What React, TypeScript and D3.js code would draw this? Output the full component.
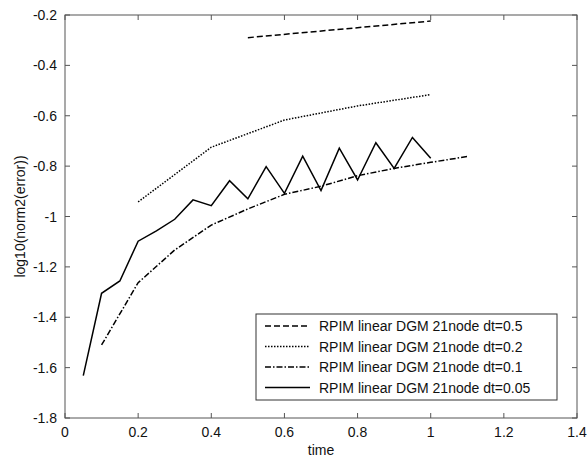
import * as d3 from "d3";
import {useEffect, useRef} from "react";

// time points and log10 error per series
const t05 = [0.5, 1.0];
const v05 = [-0.29, -0.224];

const t02 = [0.2, 0.4, 0.6, 0.8, 1.0];
const v02 = [-0.942, -0.725, -0.617, -0.561, -0.516];

const t01 = [0.1, 0.2, 0.3, 0.4, 0.5, 0.6, 0.7, 0.8, 0.9, 1.0, 1.1];
const v01 = [-1.51, -1.263, -1.133, -1.034, -0.97, -0.912, -0.88, -0.838, -0.809, -0.785, -0.762];

const t005 = [0.05, 0.1, 0.15, 0.2, 0.25, 0.3, 0.35, 0.4, 0.45, 0.5, 0.55, 0.6, 0.65, 0.7, 0.75, 0.8, 0.85, 0.9, 0.95, 1.0];
const v005 = [-1.632, -1.305, -1.256, -1.098, -1.057, -1.011, -0.934, -0.957, -0.858, -0.93, -0.802, -0.908, -0.76, -0.897, -0.729, -0.855, -0.707, -0.809, -0.686, -0.769];

const seriesNames = [
    "RPIM linear DGM 21node dt=0.5",
    "RPIM linear DGM 21node dt=0.2",
    "RPIM linear DGM 21node dt=0.1",
    "RPIM linear DGM 21node dt=0.05"
];
const dashes = ["6,3", "1.5,1.5", "6,2,1.5,2", null];

const xTicks = [0, 0.2, 0.4, 0.6, 0.8, 1, 1.2, 1.4];
const yTicks = [-0.2, -0.4, -0.6, -0.8, -1, -1.2, -1.4, -1.6, -1.8];

const App = () => {
    const chartRef = useRef(null);

    const width = 587;
    const height = 459;
    const margin = {top: 15, bottom: 41, left: 65, right: 10};

    useEffect(() => {
        const svg = d3.select(chartRef.current);
        svg.selectAll("*").remove();

        const x = d3.scaleLinear().domain([0, 1.4]).range([margin.left, width - margin.right]);
        const y = d3.scaleLinear().domain([-1.8, -0.2]).range([height - margin.bottom, margin.top]);
        const font = "Liberation Sans, Arial, sans-serif";
        const axisColor = "#555";

        svg.append("rect")
            .attr("width", width).attr("height", height).attr("fill", "#fff");

        const series = [
            {t: t05, v: v05},
            {t: t02, v: v02},
            {t: t01, v: v01},
            {t: t005, v: v005}
        ];

        const line = d3.line<[number, number]>()
            .x(d => x(d[0]))
            .y(d => y(d[1]));

        series.forEach((s, i) => {
            const pts = s.t.map((t, j) => [t, s.v[j]] as [number, number]);
            svg.append("path")
                .attr("d", line(pts))
                .attr("fill", "none")
                .attr("stroke", "#000")
                .attr("stroke-width", 1.5)
                .attr("stroke-dasharray", dashes[i])
                .attr("stroke-linejoin", "miter");
        });

        // box
        const x0 = x(0), x1 = x(1.4), y0 = y(-1.8), y1 = y(-0.2);
        svg.append("rect")
            .attr("x", x0).attr("y", y1)
            .attr("width", x1 - x0).attr("height", y0 - y1)
            .attr("fill", "none").attr("stroke", axisColor).attr("stroke-width", 1);

        const tl = 5;
        xTicks.forEach(t => {
            svg.append("line").attr("x1", x(t)).attr("x2", x(t)).attr("y1", y0).attr("y2", y0 - tl)
                .attr("stroke", axisColor);
            svg.append("line").attr("x1", x(t)).attr("x2", x(t)).attr("y1", y1).attr("y2", y1 + tl)
                .attr("stroke", axisColor);
            svg.append("text")
                .attr("x", x(t)).attr("y", y0 + 19)
                .attr("text-anchor", "middle")
                .style("font-family", font).style("font-size", "14px")
                .attr("fill", "#111")
                .text(d3.format("~g")(t));
        });

        yTicks.forEach(v => {
            svg.append("line").attr("x1", x0).attr("x2", x0 + tl).attr("y1", y(v)).attr("y2", y(v))
                .attr("stroke", axisColor);
            svg.append("line").attr("x1", x1).attr("x2", x1 - tl).attr("y1", y(v)).attr("y2", y(v))
                .attr("stroke", axisColor);
            svg.append("text")
                .attr("x", x0 - 8).attr("y", y(v) + 5)
                .attr("text-anchor", "end")
                .style("font-family", font).style("font-size", "14px")
                .attr("fill", "#111")
                .text(d3.format("~g")(v).replace("−", "-"));
        });

        svg.append("text")
            .attr("x", (x0 + x1) / 2).attr("y", y0 + 37)
            .attr("text-anchor", "middle")
            .style("font-family", font).style("font-size", "14px")
            .attr("fill", "#111")
            .text("time");

        svg.append("text")
            .attr("transform", `translate(25, ${(y0 + y1) / 2}) rotate(-90)`)
            .attr("text-anchor", "middle")
            .style("font-family", font).style("font-size", "14px")
            .attr("fill", "#111")
            .text("log10(norm2(error))");

        // legend
        const lg = svg.append("g").attr("transform", "translate(256, 314)");
        lg.append("rect")
            .attr("width", 301).attr("height", 86)
            .attr("fill", "#fff").attr("stroke", "#333").attr("stroke-width", 1);
        seriesNames.forEach((name, i) => {
            const ry = 12 + i * 20.5;
            lg.append("line")
                .attr("x1", 9).attr("x2", 54).attr("y1", ry).attr("y2", ry)
                .attr("stroke", "#000").attr("stroke-width", 1.5)
                .attr("stroke-dasharray", dashes[i]);
            lg.append("text")
                .attr("x", 63).attr("y", ry + 5)
                .style("font-family", font).style("font-size", "14px")
                .attr("fill", "#111")
                .text(name);
        });
    }, []);

    return (
        <svg ref={chartRef} width={width} height={height} style={{position: "absolute", left: 0, top: 0}}></svg>
    );
};

export default App;
